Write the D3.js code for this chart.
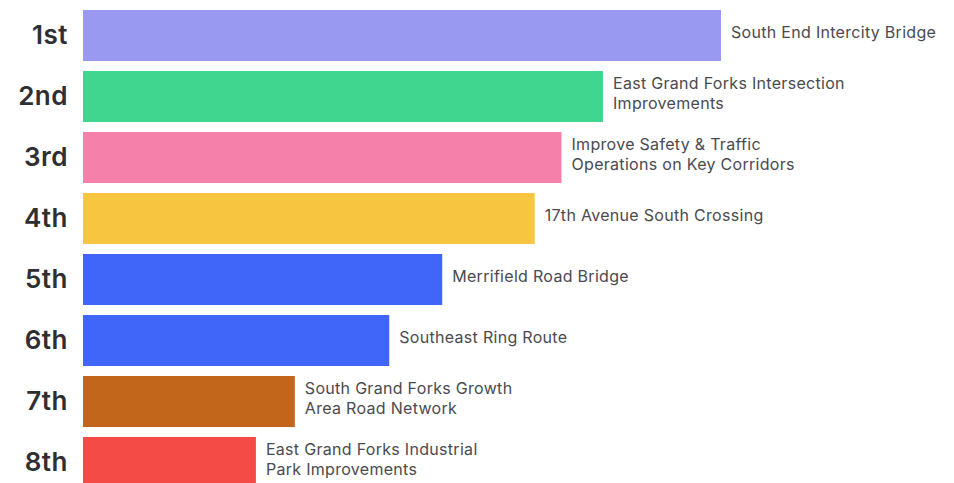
<!DOCTYPE html>
<html>
<head>
<meta charset="utf-8">
<script src="https://cdn.jsdelivr.net/npm/d3@7"></script>
<style>
  body { margin: 0; background: #fff; }
  svg { display: block; }
  .rank { font-family: Inter, "DejaVu Sans", sans-serif; font-weight: 600; font-size: 26px; letter-spacing: 0.5px; fill: #2e2e33; }
  .label { font-family: Inter, "DejaVu Sans", sans-serif; font-size: 16px; letter-spacing: 0.3px; fill: #4a4a4f; }
</style>
</head>
<body>
<svg id="chart" width="954" height="483"></svg>
<script>
// ranking data (relative score)
var ranks = ['1st', '2nd', '3rd', '4th', '5th', '6th', '7th', '8th']
var projects = [
  ['South End Intercity Bridge'],
  ['East Grand Forks Intersection', 'Improvements'],
  ['Improve Safety & Traffic', 'Operations on Key Corridors'],
  ['17th Avenue South Crossing'],
  ['Merrifield Road Bridge'],
  ['Southeast Ring Route'],
  ['South Grand Forks Growth', 'Area Road Network'],
  ['East Grand Forks Industrial', 'Park Improvements']
]
var scores = [100, 81.5, 75, 70.8, 56.3, 48, 33.2, 27.1]
var colors = ['#9a99f1', '#41d68f', '#f581aa', '#f7c540', '#3f66f8', '#3f66f8', '#c1661b', '#f44b46']

var svg = d3.select('#chart')

var x = d3.scaleLinear()
  .domain([0, 100])
  .range([83, 721])

// 61px per row, bars 51px tall
var y = d3.scaleBand()
  .domain(ranks)
  .range([10, 488])
  .paddingInner(0.164)
  .paddingOuter(0)

var rows = svg.selectAll('g.row')
  .data(ranks)
  .enter()
  .append('g')
  .attr('class', 'row')

rows.append('rect')
  .attr('x', x(0))
  .attr('y', (d) => y(d))
  .attr('width', (d, i) => x(scores[i]) - x(0))
  .attr('height', y.bandwidth())
  .attr('fill', (d, i) => colors[i])

rows.append('text')
  .attr('class', 'rank')
  .attr('x', 68)
  .attr('y', (d) => y(d) + y.bandwidth() / 2 - 1)
  .attr('dy', '0.36em')
  .attr('text-anchor', 'end')
  .text((d) => d)

// project names sit just right of each bar, a little above centre
rows.append('text')
  .attr('class', 'label')
  .attr('x', (d, i) => x(scores[i]) + 10)
  .attr('y', (d) => y(d) + y.bandwidth() / 2 - 3)
  .each(function (d, i) {
    var lines = projects[i]
    var t = d3.select(this)
    lines.forEach((line, j) => {
      t.append('tspan')
        .attr('x', x(scores[i]) + 10)
        .attr('dy', j == 0 ? (0.35 - (lines.length - 1) * 0.62) + 'em' : '1.25em')
        .text(line)
    })
  })
</script>
</body>
</html>
